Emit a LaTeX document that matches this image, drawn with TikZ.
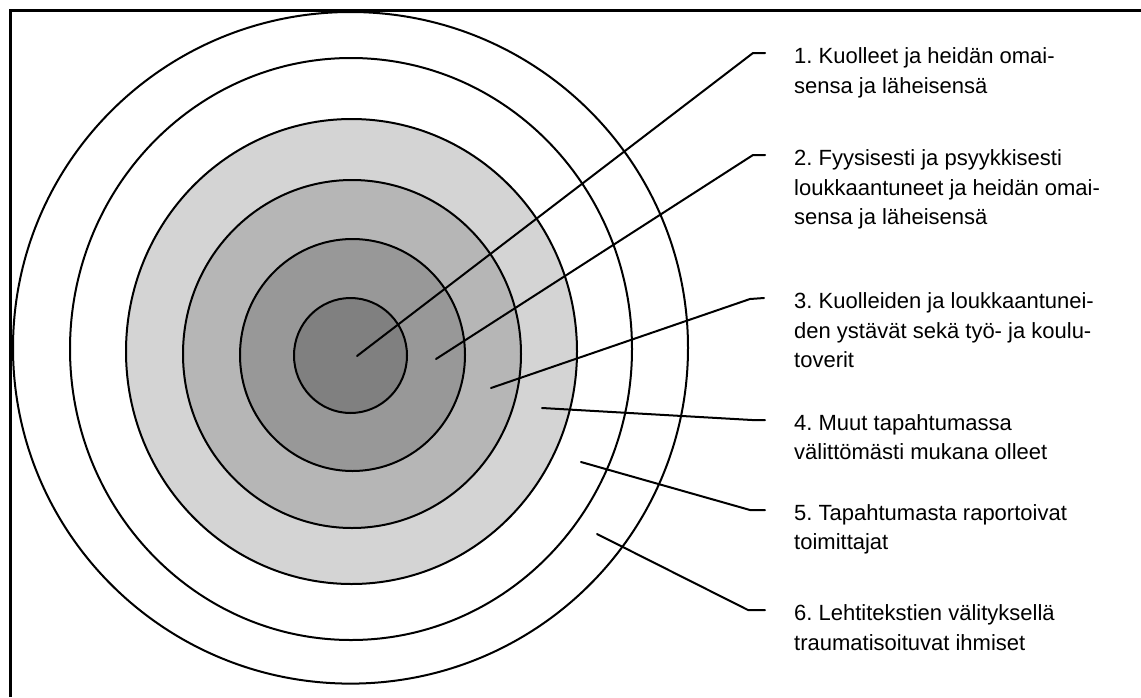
\documentclass[tikz,border=0pt]{standalone}
\usepackage{fontspec}
\setmainfont{Liberation Sans}
\frenchspacing
\definecolor{ringA}{RGB}{212,212,212}
\definecolor{ringB}{RGB}{182,182,182}
\definecolor{ringC}{RGB}{152,152,152}
\definecolor{ringD}{RGB}{128,128,128}
\begin{document}
\begin{tikzpicture}[x=1pt,y=-1pt,
  ring/.style={line width=2pt,draw=black},
  leader/.style={line width=2pt,line join=round,line cap=round},
  lbl/.style={anchor=base west,inner sep=0pt,align=left,font=\fontsize{22}{29.5}\selectfont\frenchspacing}]
\useasboundingbox (0,0) rectangle (1141,697);
\fill[white] (0,0) rectangle (1141,697);
\draw[line width=3pt] (10.5,697) -- (10.5,10.5) -- (1141,10.5);
% rings
\path[ring,fill=white] (350.5,347.8) ellipse [x radius=337.5pt,y radius=335.8pt];
\path[ring,fill=white] (351,349) ellipse [x radius=281pt,y radius=291pt];
\path[ring,fill=ringA] (351.5,351.5) ellipse [x radius=225.5pt,y radius=232.5pt];
\path[ring,fill=ringB] (352,354) ellipse [x radius=169pt,y radius=174pt];
\path[ring,fill=ringC] (352.5,355) ellipse [x radius=112.5pt,y radius=116pt];
\path[ring,fill=ringD] (350.5,355.5) ellipse [x radius=56.5pt,y radius=57.5pt];
% leader points
\coordinate (p1) at (357,356);  \coordinate (b1) at (753,53);  \coordinate (e1) at (765,53);
\coordinate (p2) at (436,359);  \coordinate (b2) at (753,155); \coordinate (e2) at (765,155);
\coordinate (p3) at (491,388);  \coordinate (b3) at (750,299); \coordinate (e3) at (764,298);
\coordinate (p4) at (542,408);  \coordinate (b4) at (752,420); \coordinate (e4) at (765,420);
\coordinate (p5) at (581,462);  \coordinate (b5) at (750,510); \coordinate (e5) at (765,510);
\coordinate (p6) at (597,534);  \coordinate (b6) at (748,610); \coordinate (e6) at (765,610);
\foreach \i in {1,...,6} \draw[leader] (p\i) -- (b\i) -- (e\i);
% labels (anchor is the baseline of the last line)
\node[lbl] (t1) at (794,93) {1. Kuolleet ja heidän omai-\\sensa ja läheisensä};
\node[lbl] (t2) at (794,224.5) {2. Fyysisesti ja psyykkisesti\\loukkaantuneet ja heidän omai-\\sensa ja läheisensä};
\node[lbl] (t3) at (794,367.5) {3. Kuolleiden ja loukkaantunei-\\den ystävät sekä työ- ja koulu-\\toverit};
\node[lbl] (t4) at (794,459.5) {4. Muut tapahtumassa\\välittömästi mukana olleet};
\node[lbl] (t5) at (794,549.5) {5. Tapahtumasta raportoivat\\toimittajat};
\node[lbl] (t6) at (794,650) {6. Lehtitekstien välityksellä\\traumatisoituvat ihmiset};
\end{tikzpicture}
\end{document}
